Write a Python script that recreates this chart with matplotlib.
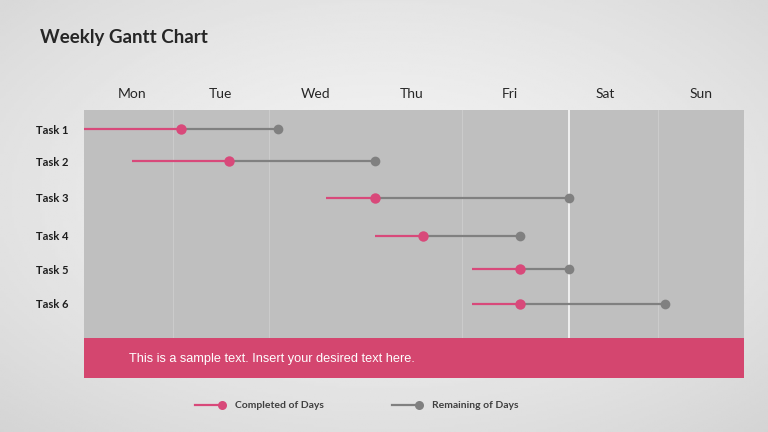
import numpy as np
import matplotlib
matplotlib.use("Agg")
import matplotlib.pyplot as plt
from matplotlib.lines import Line2D

# ---- data ----
days = ["Mon", "Tue", "Wed", "Thu", "Fri", "Sat", "Sun"]
tasks = ["Task 1", "Task 2", "Task 3", "Task 4", "Task 5", "Task 6"]
task_start = [0.0, 0.5, 2.5, 3.0, 4.0, 4.0]
task_done = [1.0, 1.5, 3.0, 3.5, 4.5, 4.5]
task_end = [2.0, 3.0, 5.0, 4.5, 5.0, 6.0]
title = "Weekly Gantt Chart"
banner_text = "This is a sample text. Insert your desired text here."
legend_labels = ["Completed of Days", "Remaining of Days"]

# ---- layout ----
W, H = 768, 432
day_label_pos = [0.50, 1.41, 2.39, 3.38, 4.39, 5.38, 6.37]
row_pos = [19, 51, 87.5, 126, 159, 193.5]   # px below plot top
grid_pos = [0.92, 1.91, 3.90, 5.92]
today_pos = 5.0
x_max = 6.81

PINK = "#d8497a"
GREY = "#808080"
BANNER = "#d4466f"
PLOT_BG = "#bfbfbf"
TXT = "#262626"

fig = plt.figure(figsize=(W / 100, H / 100), dpi=100)

# background gradient
bg = fig.add_axes([0, 0, 1, 1])
yy, xx = np.mgrid[0:1:200j, 0:1:300j]
r = np.sqrt(((xx - 0.5) / 0.75) ** 2 + ((yy - 0.45) / 0.75) ** 2)
img = 0.95 - 0.12 * np.clip(r, 0, 1) ** 1.5
bg.imshow(img, cmap="gray", vmin=0, vmax=1, extent=[0, 1, 0, 1], aspect="auto")
bg.set_axis_off()


def fx(px):
    return px / W


def fy(py):
    return 1 - py / H


ax = fig.add_axes([fx(84), fy(338), fx(744) - fx(84), fy(110) - fy(338)])
ax.set_facecolor(PLOT_BG)
ax.set_xlim(0, x_max)
ax.set_ylim(228, 0)
for s in ax.spines.values():
    s.set_visible(False)

for g in grid_pos:
    ax.axvline(g, color="#cbcbcb", lw=0.8, zorder=1)
ax.axvline(today_pos, color="#f4f4f4", lw=1.3, zorder=1)

for y, s, d, e in zip(row_pos, task_start, task_done, task_end):
    ax.plot([d, e], [y, y], color=GREY, lw=1.6, zorder=2, solid_capstyle="butt")
    ax.plot([e], [y], "o", color=GREY, ms=7, zorder=3, markeredgewidth=0)
    ax.plot([s, d], [y, y], color=PINK, lw=1.6, zorder=4, solid_capstyle="butt")
    ax.plot([d], [y], "o", color=PINK, ms=7.5, zorder=5, markeredgewidth=0)

ax.xaxis.tick_top()
ax.set_xticks(day_label_pos)
ax.set_xticklabels(days, fontfamily="Lato", fontsize=10, color=TXT)
ax.tick_params(axis="x", length=0, pad=7.5)
ax.set_yticks(row_pos)
ax.set_yticklabels(tasks, fontfamily="Lato", fontweight="bold", fontsize=8, color="#1e1e1e")
ax.tick_params(axis="y", length=0, pad=11.5)

# banner
bax = fig.add_axes([fx(84), fy(378), fx(744) - fx(84), fy(338) - fy(378)])
bax.set_facecolor(BANNER)
bax.set_xticks([])
bax.set_yticks([])
for s in bax.spines.values():
    s.set_visible(False)
fig.text(fx(129), fy(359), banner_text, color="white", fontsize=9.2,
         fontfamily="Liberation Sans", va="center", ha="left")

# title
fig.text(fx(40), fy(37), title, fontfamily="Lato", fontweight="bold",
         fontsize=13.5, color=TXT, va="center", ha="left")

# legend
for (x0, col, lab) in [(195, PINK, legend_labels[0]), (392, GREY, legend_labels[1])]:
    fig.add_artist(Line2D([fx(x0), fx(x0 + 27)], [fy(405), fy(405)], color=col, lw=1.6))
    fig.add_artist(Line2D([fx(x0 + 27)], [fy(405)], marker="o", color=col, ms=6.5,
                          markeredgewidth=0))
    fig.text(fx(x0 + 40), fy(405), lab, fontfamily="Lato", fontweight="bold",
             fontsize=7.5, color="#404040", va="center", ha="left")

fig.savefig("out.png", dpi=100)
